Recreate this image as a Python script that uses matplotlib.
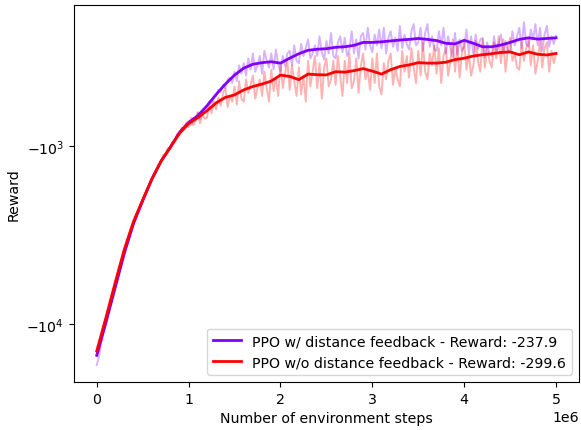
import numpy as np
import matplotlib
matplotlib.use("Agg")
import matplotlib.pyplot as plt

plt.rcParams["font.size"] = 10.2

# x in environment steps
steps_raw = np.arange(201) * 25000
steps_smooth = np.arange(51) * 100000

# raw episode rewards (pale curves), one value every 25k steps
raw_with = [
    -17000, -15200, -12600, -11000, -9900, -8700, -7700, -6900, -6300, -5500,
    -4950, -4450, -4000, -3620, -3290, -3000, -2730, -2520, -2330, -2170,
    -2030, -1890, -1760, -1640, -1530, -1450, -1360, -1280, -1210, -1150,
    -1100, -1050, -1010, -960, -920, -870, -840, -800, -780, -750,
    -720, -760, -690, -700, -650, -700, -640, -620, -600, -560,
    -575, -530, -520, -480, -495, -450, -470, -420, -410, -440,
    -380, -430, -350, -390, -340, -400, -320, -370, -300, -380,
    -350, -310, -390, -290, -330, -360, -300, -370, -285, -345,
    -380, -310, -355, -300, -290, -350, -270, -330, -340, -265,
    -310, -280, -250, -320, -300, -270, -310, -240, -295, -325,
    -255, -300, -230, -310, -320, -260, -240, -295, -245, -310,
    -285, -225, -300, -250, -320, -240, -230, -285, -215, -270,
    -295, -235, -270, -220, -280, -215, -300, -245, -225, -275,
    -245, -290, -210, -280, -235, -265, -285, -225, -205, -270,
    -260, -215, -290, -230, -205, -275, -240, -285, -290, -225,
    -270, -215, -300, -240, -280, -315, -230, -305, -250, -290,
    -275, -220, -295, -240, -300, -235, -285, -250, -245, -315,
    -260, -300, -310, -240, -295, -265, -235, -300, -255, -290,
    -285, -225, -270, -240, -215, -280, -200, -265, -275, -220,
    -250, -205, -270, -215, -290, -235, -210, -275, -240, -265,
    -238]
raw_without = [
    -15200, -14000, -12000, -10500, -9300, -8200, -7300, -6500, -5900, -5200,
    -4700, -4200, -3800, -3450, -3150, -2880, -2650, -2450, -2280, -2130,
    -2000, -1860, -1740, -1620, -1540, -1420, -1360, -1260, -1220, -1120,
    -1110, -1020, -1030, -940, -930, -850, -860, -780, -800, -740,
    -780, -690, -760, -720, -640, -740, -660, -700, -690, -580,
    -650, -560, -620, -530, -590, -500, -470, -600, -520, -560,
    -460, -580, -430, -540, -560, -420, -500, -450, -400, -540,
    -470, -420, -520, -380, -470, -560, -370, -490, -410, -520,
    -340, -470, -390, -330, -480, -350, -430, -520, -360, -510,
    -400, -560, -330, -460, -380, -310, -470, -340, -540, -360,
    -320, -460, -420, -330, -450, -310, -400, -520, -330, -440,
    -300, -470, -430, -320, -500, -350, -300, -420, -370, -480,
    -320, -440, -300, -460, -510, -340, -420, -330, -300, -450,
    -360, -420, -460, -290, -380, -310, -410, -280, -360, -440,
    -290, -400, -260, -380, -420, -300, -350, -270, -390, -280,
    -440, -310, -280, -400, -330, -250, -380, -270, -410, -300,
    -260, -370, -300, -400, -350, -255, -330, -380, -250, -360,
    -280, -330, -360, -260, -320, -240, -340, -250, -380, -280,
    -245, -330, -300, -360, -370, -260, -330, -280, -250, -350,
    -270, -390, -330, -255, -360, -280, -260, -380, -290, -340,
    -300]

# smoothed rewards (solid curves), one value every 100k steps
smooth_with = [-14980, -9810, -6260, -4000, -2720, -2025, -1527, -1212, -1013, -835,
               -735, -672, -591, -510, -446, -397, -363, -345, -338, -334,
               -340, -319, -301, -288, -284, -282, -277, -275, -270, -260,
               -260, -258, -255, -252, -250, -247, -250, -254, -263, -265,
               -253, -263, -275, -275, -269, -260, -250, -245, -249, -247,
               -245]
smooth_without = [-14180, -9200, -5870, -3800, -2650, -2000, -1527, -1212, -1013, -846,
                  -745, -689, -630, -569, -530, -513, -481, -460, -446, -429,
                  -397, -404, -421, -392, -395, -396, -380, -382, -375, -365,
                  -377, -392, -370, -355, -348, -338, -340, -340, -336, -325,
                  -319, -310, -305, -301, -296, -294, -305, -294, -303, -306,
                  -300]

labels = ["PPO w/ distance feedback - Reward: -237.9",
          "PPO w/o distance feedback - Reward: -299.6"]
colors = plt.cm.rainbow(np.linspace(0, 1, 2))

fig, ax = plt.subplots(figsize=(5.81, 4.31), dpi=100)
fig.subplots_adjust(left=0.127, right=0.9966, top=0.986, bottom=0.111)

for raw, c in zip([raw_with, raw_without], colors):
    ax.plot(steps_raw, raw, color=c, alpha=0.3, linewidth=1.4)
for sm, c, lab in zip([smooth_with, smooth_without], colors, labels):
    ax.plot(steps_smooth, sm, color=c, linewidth=2.0, label=lab)

ax.set_yscale("symlog")
ax.set_xlabel("Number of environment steps")
ax.set_ylabel("Reward")
ax.legend(loc="lower right")

fig.savefig("out.png", dpi=100)
